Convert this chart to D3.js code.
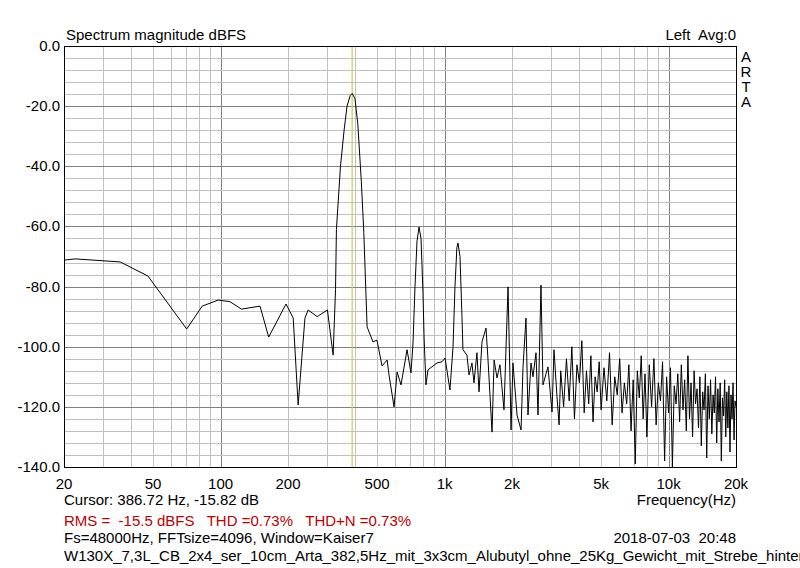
<!DOCTYPE html>
<html><head><meta charset="utf-8">
<script src="https://cdn.jsdelivr.net/npm/d3@7"></script>
<style>body{margin:0;background:#fff}text{font-family:Arial,"Liberation Sans",sans-serif}</style>
</head><body>
<svg id="c" width="800" height="568"></svg>
<script>
// spectrum trace
const freqs = [20,22.4,35.6,47.4,70.6,82.8,97.5,110,124,150,164,196,211,222,238,246,270,300,318,326,329,343,356,367,379,386.7,398,410,425,436,
  451,479,499,526,554,565,595,614,639,680,708,723,738,753,769,785,801,810,826,843,925,974,1005,1057,1091,1113,1135,1148,1172,1196,1208,1259,1286,1325,1353,1395,1425,
  1469,1531,1563,1629,1664,1715,1767,1842,1920,1981,2020,2106,2195,2240,2309,2357,2432,2481,2560,2613,2694,2750,2894,3018,3080,3176,3245,
  3300,3400,3500,3600,3700,3800,3900,4000,4100,4200,4300,4400,4500,4600,4700,4800,4900,5000,
  5150,5300,5450,5600,5750,5900,6050,6200,6350,6500,6650,6800,6950,7100,7250,7400,7550,7700,7850,8000,
  8200,8400,8600,8800,9000,9200,9400,9600,9800,10000,10200,10400,10600,10800,11000,11200,11400,11600,11800,12000,
  12200,12400,12600,12800,13000,13200,13400,13600,13800,14000,14200,14400,14600,14800,15000,15200,15400,15600,15800,16000,
  16200,16400,16600,16800,17000,17200,17400,17600,17800,18000,18200,18400,18600,18800,19000,19200,19400,19600,19800,20000];
const levels = [-71.2,-70.8,-71.8,-76.5,-94.1,-86.5,-84.5,-85,-87.5,-86.5,-96.8,-85.8,-90.5,-119.4,-90.5,-87.8,-90,-87.8,-102.8,-81,-61,-40,-28,-20,-16.5,-15.8,-17.5,-26,-45,-62,
  -93.4,-98.4,-97.8,-106.4,-104.4,-109.4,-120,-108.4,-112.7,-101,-108.7,-98.8,-80,-65,-60.2,-64,-82,-96.8,-112.7,-107.7,-105.4,-105,-103.8,-114.4,-100,-80,-67,-65.5,-70,-90,-101,-102.8,-109.4,-105.4,-112,-102,-115,
  -98.4,-93.8,-104.4,-128.4,-104.4,-110.4,-106,-121,-80.1,-127.7,-105.4,-122.7,-127.7,-106.7,-90.5,-122.7,-105.4,-110,-102,-122.7,-79.5,-112.7,-106.7,-121.7,-101,-116.7,-126,
  -108,-120,-104,-118,-100,-124,-106,-112,-98,-122,-108,-119,-103,-125,-110,-115,-105,-121,
  -107,-118,-102,-126,-110,-116,-104,-122,-112,-119,-106,-128,-111,-139,-108,-117,-103,-124,-109,-130,
  -106,-120,-104,-126,-112,-118,-105,-138,-110,-122,-107,-140,-113,-119,-109,-125,-106,-121,-111,-128,
  -103,-124,-112,-130,-108,-119,-114,-127,-110,-133,-115,-121,-109,-137,-113,-124,-111,-129,-116,-122,
  -110,-132,-114,-125,-112,-138,-117,-123,-111,-130,-115,-127,-113,-135,-116,-124,-112,-131,-118,-120];
const xTickLabels = [20,50,100,200,500,1000,2000,5000,10000,20000];
const yTickLabels = [0,-20,-40,-60,-80,-100,-120,-140];
const cursorFreq = 386.72;

const L = 64, R = 736, T = 46, B = 467;
const svg = d3.select('#c');
const x = d3.scaleLog().domain([20, 20000]).range([L, R]);
const y = d3.scaleLinear().domain([-140, 0]).range([B, T]);

// grid
const minorX = [];
[10, 100, 1000, 10000].forEach(d => { for (let k = 1; k < 10; k++) { const f = d * k; if (f > 20 && f < 20000) minorX.push(f); } });
const g = svg.append('g');
g.selectAll('.vx').data(minorX).join('line')
  .attr('x1', d => Math.round(x(d)) + 0.5).attr('x2', d => Math.round(x(d)) + 0.5).attr('y1', T).attr('y2', B)
  .attr('stroke', d => [100, 1000, 10000].includes(d) ? '#808080' : '#c0c0c0').attr('stroke-width', 1);
g.selectAll('.hy').data(d3.range(-136, 0, 4)).join('line')
  .attr('x1', L).attr('x2', R).attr('y1', d => Math.round(y(d)) + 0.5).attr('y2', d => Math.round(y(d)) + 0.5)
  .attr('stroke', d => d % 20 === 0 ? '#808080' : '#c0c0c0');

// cursor
svg.append('line').attr('x1', x(cursorFreq)).attr('x2', x(cursorFreq)).attr('y1', T).attr('y2', B)
  .attr('stroke', '#d4c84a').attr('stroke-width', 1.2);

// trace
svg.append('path').datum(d3.zip(freqs, levels))
  .attr('d', d3.line().x(d => x(d[0])).y(d => y(d[1])))
  .attr('fill', 'none').attr('stroke', '#000').attr('stroke-width', 1);

svg.append('rect').attr('x', L + 0.5).attr('y', T + 0.5).attr('width', R - L).attr('height', B - T)
  .attr('fill', 'none').attr('stroke', '#000');

// axes labels
const fmtF = d => d >= 1000 ? (d / 1000) + 'k' : d;
svg.selectAll('.xl').data(xTickLabels).join('text')
  .attr('x', d => x(d)).attr('y', 489).attr('text-anchor', 'middle').attr('font-size', 15).text(fmtF);
svg.selectAll('.yl').data(yTickLabels).join('text')
  .attr('x', 60).attr('y', d => y(d) + 5).attr('text-anchor', 'end').attr('font-size', 15).text(d => d.toFixed(1));

const txt = (tx, ty, s, opt = {}) => svg.append('text').attr('x', tx).attr('y', ty).attr('font-size', 15)
  .attr('text-anchor', opt.a || 'start').attr('fill', opt.c || '#000').attr('xml:space', 'preserve').text(s);
txt(66, 40, 'Spectrum magnitude dBFS');
txt(736, 40, 'Left  Avg:0', { a: 'end' });
['A', 'R', 'T', 'A'].forEach((s, i) => txt(746, 62 + i * 15, s, { a: 'middle' }));
txt(64, 505, 'Cursor: 386.72 Hz, -15.82 dB');
txt(736, 505, 'Frequency(Hz)', { a: 'end' });
txt(64, 526, 'RMS =  -15.5 dBFS   THD =0.73%   THD+N =0.73%', { c: '#c00000' });
txt(64, 543, 'Fs=48000Hz, FFTsize=4096, Window=Kaiser7');
txt(736, 543, '2018-07-03  20:48', { a: 'end' });
txt(64, 561, 'W130X_7,3L_CB_2x4_ser_10cm_Arta_382,5Hz_mit_3x3cm_Alubutyl_ohne_25Kg_Gewicht_mit_Strebe_hinter_T');
</script>
</body></html>
